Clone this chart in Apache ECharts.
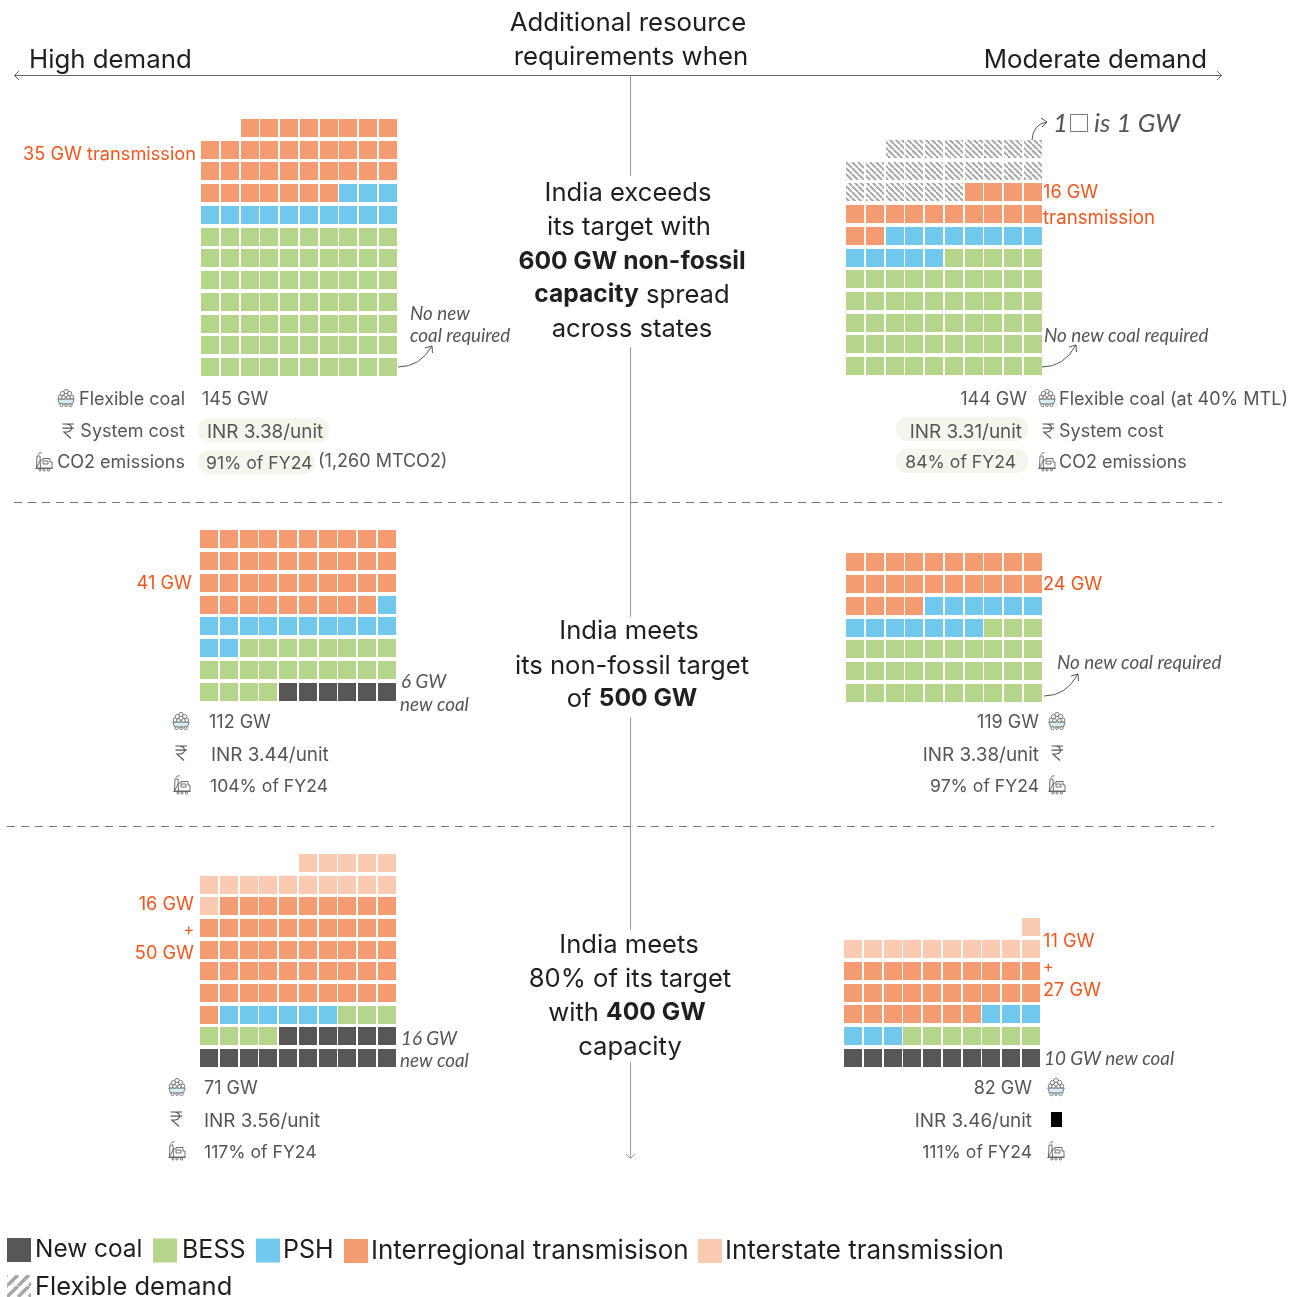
<!DOCTYPE html>
<html><head><meta charset="utf-8">
<style>html,body{margin:0;padding:0;background:#fff}#c{width:1301px;height:1297px}</style>
<script src="https://cdn.jsdelivr.net/npm/echarts@6/dist/echarts.min.js"></script>
</head><body><div id="c"></div>
<script>
// Values: GW per panel, order = high600, moderate600, high500, moderate500, high400, moderate400
const panelNames = ['High demand 600 GW','Moderate demand 600 GW','High demand 500 GW','Moderate demand 500 GW','High demand 400 GW','Moderate demand 400 GW'];
const newCoal = [0,0,6,0,16,10];
const bess = [70,55,22,33,7,7];
const psh = [13,13,13,13,6,6];
const interregional = [35,16,39,24,50,27];
const interstate = [0,0,0,0,16,11];
const flexibleDemand = [0,24,0,0,0,0];
const seriesNames = ['New coal','BESS','PSH','Interregional transmisison','Interstate transmission','Flexible demand'];
const seriesValues = [newCoal,bess,psh,interregional,interstate,flexibleDemand];

// Layout (pixels)
const panelLeft = [201,846,200,846,200,844];
const panelBottom = [376,375,701,702,1067,1067];
const panelPitchY = [21.73,21.7,21.86,21.83,21.67,21.83];
const pitchX = 19.78, cell = 18, perRow = 10;

const FONT = 'Inter', ITAL = 'Lato';
const INK = '#1f1f1f', GREY = '#555555', ORANGE = '#f0561d';

function hatch(period, lw, mirror){
  const c = document.createElement('canvas'); c.width = c.height = period;
  const g = c.getContext('2d'); g.fillStyle = '#fff'; g.fillRect(0,0,period,period);
  g.strokeStyle = '#a8a8a8'; g.lineWidth = lw;
  for (let k = -1; k <= 1; k++){
    g.beginPath();
    if (mirror){ g.moveTo(k*period, period); g.lineTo(k*period+period, 0); }
    else { g.moveTo(k*period, 0); g.lineTo(k*period+period, period); }
    g.stroke();
  }
  return {type:'pattern', image:c, repeat:'repeat'};
}
const colors = ['#575756','#b5d58b','#70c8ec','#f49b71','#fbcbb1',hatch(6,2,false)];

const grids=[], xAxes=[], yAxes=[], series=[];
panelLeft.forEach((left,p)=>{
  const total = seriesValues.reduce((s,a)=>s+a[p],0);
  const rows = Math.ceil(total/perRow);
  const pitchY = panelPitchY[p];
  const pad = (pitchY-cell)/2;
  grids.push({left:left-(pitchX-cell)/2, top:panelBottom[p]+pad-rows*pitchY, width:perRow*pitchX, height:rows*pitchY, containLabel:false});
  xAxes.push({type:'value',gridIndex:p,min:0,max:perRow,show:false});
  yAxes.push({type:'value',gridIndex:p,min:0,max:rows,show:false});
  let n = 0;
  seriesValues.forEach((arr,s)=>{
    const data=[];
    for(let i=0;i<arr[p];i++,n++){ data.push([perRow-1-(n%perRow), Math.floor(n/perRow)]); }
    const col = colors[s];
    series.push({type:'custom',name:seriesNames[s],coordinateSystem:'cartesian2d',xAxisIndex:p,yAxisIndex:p,
      itemStyle:{color:col},silent:true,animation:false,clip:false,data,
      renderItem:(params,api)=>{
        const c = api.coord([api.value(0)+0.5, api.value(1)+0.5]);
        return {type:'rect',shape:{x:Math.round(c[0]-cell/2),y:Math.round(c[1]-cell/2),width:cell,height:cell},style:{fill:col}};
      }});
  });
});

// ---- text & annotation helpers
const G=[];
let pathCount=0;
function pathEl(d,style,extra){
  const name='svgp'+(pathCount++);
  echarts.graphic.registerShape(name, echarts.graphic.extendPath(d,{}));
  return Object.assign({type:name,shape:{},style,silent:true},extra||{});
}
function T(x,y,text,o={}){
  const size=o.size||18;
  const nudge=o.italic?0.5:(size<20?2:1);
  const style={x,y:y+nudge,text,fill:o.color||GREY,font:`${o.italic?'italic ':''}${o.weight||400} ${size}px "${o.italic?ITAL:FONT}"`,align:o.align||'left',verticalAlign:'middle'};
  if(o.rich) style.rich=o.rich;
  G.push({type:'text',style,silent:true});
}
function L(x1,y1,x2,y2,color,w,dash){
  G.push({type:'line',shape:{x1,y1,x2,y2},style:{stroke:color,lineWidth:w||1,lineDash:dash||null},silent:true});
}
function P(d,stroke,w,fill){
  G.push(pathEl(d,{stroke:stroke||GREY,lineWidth:w||1,fill:fill||'none'}));
}
function pill(x,y,w,h){ G.push({type:'rect',shape:{x,y,width:w,height:h,r:11},style:{fill:'#f3f6ea'},silent:true}); }
function iconCoal(x,y){
  const c='#5f5f5f';
  G.push({type:'group',x,y,silent:true,children:[
    pathEl('M0.8 10 H17.2 L15.5 15 H2.5 Z',{fill:'#d6edf3',stroke:c,lineWidth:.8}),
    ...[[9,2.6,2.2],[5.4,4.6,2.2],[12.6,4.6,2.2],[9,6.4,2.2],[3.2,8,2],[14.8,8,2],[6.6,8.4,1.8],[11.4,8.4,1.8],[4.5,16.2,1.5],[13.5,16.2,1.5],[9,16.2,1.3]]
      .map(a=>({type:'circle',shape:{cx:a[0],cy:a[1],r:a[2]},style:{fill:'#fff',stroke:c,lineWidth:.8}}))
  ]});
}
function iconRupee(x,y){
  G.push(pathEl('M0.5 1 H12 M0.5 5.2 H12 M3.5 1 Q9.5 1 9.5 5.2 Q9.5 9.2 2 9.2 L9 15.5',{stroke:GREY,lineWidth:1.2,fill:'none'},{x,y}));
}
function iconFactory(x,y){
  const c='#5f5f5f';
  G.push({type:'group',x,y,silent:true,children:[
    pathEl('M3 2.5 Q3.5 0.5 6.5 0.8 M1.5 16 L2 4 H5 L5.5 16 M5.5 8 H8 V6.5 H15 V10 H17 V16 H1.5 Z M0.3 16.5 H17.7 M8 9 H13 V12 H8 Z',{fill:'#fff',stroke:c,lineWidth:.9}),
    ...[[5,18],[9,18],[13.5,18]].map(a=>({type:'circle',shape:{cx:a[0],cy:a[1],r:1.1},style:{fill:'#fff',stroke:c,lineWidth:.8}}))
  ]});
}
function curveArrow(d){ P(d,'#555',1); }

// ---- frame lines
L(14,75.5,1222,75.5,'#666',1.2);
P('M19 71 L14.5 75.5 L19 80','#666',1);
P('M1217 71 L1221.5 75.5 L1217 80','#666',1);
[[76,176],[347,617],[717,930],[1062,1158]].forEach(s=>L(630.5,s[0],630.5,s[1],'#999',1));
P('M626 1154 L630.5 1158.5 L635 1154','#999',1);
L(14,502.5,1222,502.5,'#777',1,[8,6]);
L(7,826.5,1214,826.5,'#777',1,[8,6]);

// ---- headers
const H={size:25.8,color:INK};
T(29,59,'High demand',H);
T(1207,59,'Moderate demand',{...H,align:'right'});
T(628,22,'Additional resource',{...H,align:'center'});
T(631,56,'requirements when',{...H,align:'center'});

// ---- central captions
const C={size:25.6,color:INK,align:'center'};
const bold={b:{font:`700 24.6px "${FONT}"`,fill:INK}};
const reg={rich:{...bold,r:{font:`400 25.6px "${FONT}"`,fill:INK}}};
T(628,192,'India exceeds',C);
T(629,226,'its target with',C);
T(632,261,'600 GW non-fossil',{...C,weight:700,size:24.6});
T(632,294,'{b|capacity}{r| spread}',{...C,...reg});
T(632,328,'across states',C);
T(629,630,'India meets',C);
T(632,665,'its non-fossil target',C);
T(632,698,'{r|of }{b|500 GW}',{...C,...reg});
T(629,944,'India meets',C);
T(630,978,'80% of its target',C);
T(627,1012,'{r|with }{b|400 GW}',{...C,...reg});
T(630,1046,'capacity',C);

// ---- metric text styles
const INR={size:18.9}, FY={size:17.6};
const O={color:ORANGE,size:18.2}, I={italic:true,size:18.8,color:GREY};

// ---- panel A
T(196,153,'35 GW transmission',{...O,align:'right'});
T(410,313,'No new',I); T(410,335,'coal required',I);
curveArrow('M398 367 Q420 367 432 346 M425 348 L432 346 L432.5 353');
pill(198,418,131,24); pill(198,450,117,24);
iconCoal(57,389); iconRupee(62,423); iconFactory(35,452);
T(185,398,'Flexible coal',{align:'right'}); T(202,398,'145 GW');
T(185,430,'System cost',{align:'right'}); T(207,430,'INR 3.38/unit',INR);
T(185,461,'CO2 emissions',{align:'right'}); T(206,462,'91% of FY24',FY); T(318,460,'(1,260 MTCO2)');

// ---- panel B
T(1043,191,'16 GW',O); T(1043,216,'transmission',{...O,size:18.7});
T(1044,335,'No new coal required',I);
curveArrow('M1042 367 Q1064 367 1076 345 M1069 347 L1076 345 L1076.5 352');
curveArrow('M1032 140 Q1033 124 1047 122 M1041 118 L1047 122 L1042 127');
T(1053,123,'1',{italic:true,size:26,color:GREY});
G.push({type:'rect',shape:{x:1070.5,y:114.5,width:17,height:17},style:{fill:'#fff',stroke:'#777',lineWidth:1},silent:true});
T(1094,123,'is 1 GW',{italic:true,size:26,color:GREY});
pill(896,417,132,24); pill(896,449,132,24);
iconCoal(1038,389); iconRupee(1042,423); iconFactory(1038,452);
T(1027,398,'144 GW',{align:'right'}); T(1059,398,'Flexible coal (at 40% MTL)');
T(1022,430,'INR 3.31/unit',{...INR,align:'right'}); T(1059,430,'System cost');
T(1016,461,'84% of FY24',{...FY,align:'right'}); T(1059,461,'CO2 emissions');

// ---- panel C
T(192,582,'41 GW',{...O,align:'right'});
T(401,681,'6 GW',I); T(400,704,'new coal',I);
iconCoal(172,712); iconRupee(175,745); iconFactory(173,775);
T(209,721,'112 GW'); T(211,753,'INR 3.44/unit',INR); T(210,785,'104% of FY24',FY);

// ---- panel D
T(1043,583,'24 GW',O);
T(1057,662,'No new coal required',I);
curveArrow('M1044 696 Q1066 696 1078 674 M1071 676 L1078 674 L1078.5 681');
iconCoal(1048,712); iconRupee(1051,745); iconFactory(1048,775);
T(1039,721,'119 GW',{align:'right'}); T(1039,753,'INR 3.38/unit',{...INR,align:'right'}); T(1039,785,'97% of FY24',{...FY,align:'right'});

// ---- panel E
T(194,903,'16 GW',{...O,align:'right'}); T(194,928,'+',{...O,align:'right',size:16}); T(194,952,'50 GW',{...O,align:'right'});
T(401,1038,'16 GW',I); T(400,1060,'new coal',I);
iconCoal(168,1078); iconRupee(170,1111); iconFactory(168,1141);
T(204,1087,'71 GW'); T(204,1119,'INR 3.56/unit',INR); T(204,1151,'117% of FY24',FY);

// ---- panel F
T(1043,940,'11 GW',O); T(1043,965,'+',{...O,size:16}); T(1043,989,'27 GW',O);
T(1044,1058,'10 GW new coal',I);
iconCoal(1047,1078); iconFactory(1047,1141);
G.push({type:'rect',shape:{x:1051,y:1112,width:11,height:15},style:{fill:'#000'},silent:true});
T(1032,1087,'82 GW',{align:'right'}); T(1032,1119,'INR 3.46/unit',{...INR,align:'right'}); T(1032,1151,'111% of FY24',{...FY,align:'right'});

// ---- legend
const legendLeft=[7,153,256,344,698,7], legendTop=[1238,1238,1238,1238,1238,1274];
const legendDrop=[4,4,4,0,2,0], legendLift=[0,0,0,8,0,0];
const legendSize=[24.4,25,25,26,26,25.5], legendNudge=[-1,0,-2,-2,-2,-1];
const legendHatch=hatch(11,3.6,true);
const legends=seriesNames.map((name,i)=>({
  show:true,selectedMode:false,left:legendLeft[i],top:legendTop[i],padding:0,itemWidth:24,itemHeight:24,
  icon:'rect',data:[{name,itemStyle:{color:i===5?legendHatch:colors[i]}}],
  textStyle:{fontFamily:FONT,fontSize:legendSize[i],color:INK,padding:[legendDrop[i],0,legendLift[i],legendNudge[i]]}
}));

const chart=echarts.init(document.getElementById('c'),null,{renderer:'canvas'});
chart.setOption({animation:false,backgroundColor:'#fff',grid:grids,xAxis:xAxes,yAxis:yAxes,legend:legends,series,graphic:{elements:G}});
</script></body></html>
